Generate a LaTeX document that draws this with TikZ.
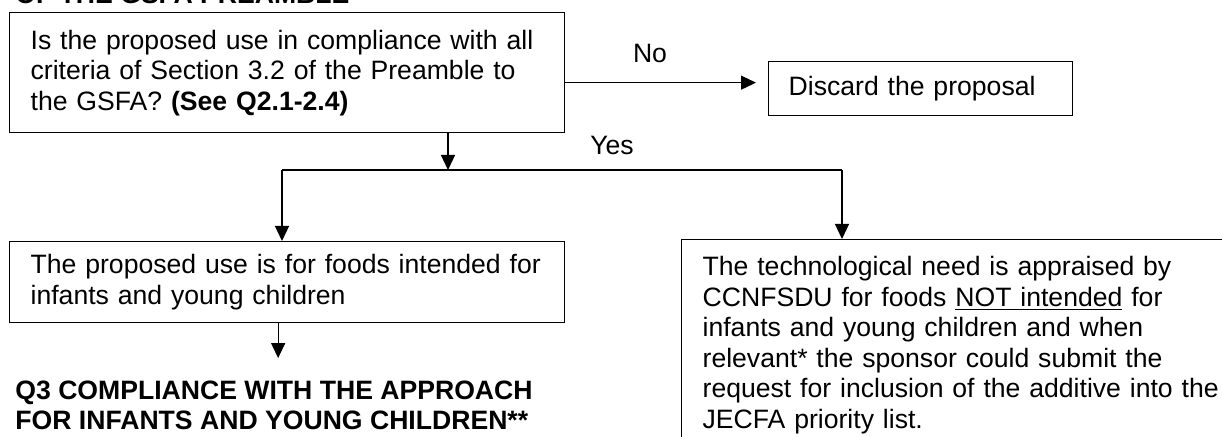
\documentclass[tikz,border=0pt]{standalone}
\usepackage{fontspec}
\setmainfont{Liberation Sans}
\usetikzlibrary{arrows.meta}
\newcommand{\boxfont}{\fontsize{13.3pt}{15.25pt}\selectfont}

\begin{document}
\begin{tikzpicture}[x=0.5pt,y=-0.5pt]
	\tikzstyle{every node}=[font=\boxfont]
	\tikzset{
		box/.style={draw, line width=0.65pt, anchor=north west, align=left, inner xsep=10.5pt},
		flow/.style={line width=0.65pt, -{Triangle[length=7.5pt,width=7pt]}},
	}
	\useasboundingbox (0,0) rectangle (1222,437);
	\fill [white] (0,0) rectangle (1222,437);
	\clip (0,0) rectangle (1222,437);
	\node [anchor=base west, inner sep=0, font=\boxfont\bfseries] (title) at (15,3.5) {OF THE GSFA PREAMBLE};
	\node [box, text width=256.5pt, minimum height=60pt] (q) at (9,12) {Is the proposed use in compliance with all\\criteria of Section 3.2 of the Preamble to\\the GSFA? \textbf{(See Q2.1-2.4)}};
	\node [box, inner xsep=10pt, text width=132pt, minimum height=27pt] (discard) at (768,61) {Discard the proposal};
	\node [box, text width=256.5pt, minimum height=40.5pt] (infant) at (9,241) {The proposed use is for foods intended for\\infants and young children};
	\node [box, inner ysep=8.4pt, text width=300pt] (ccn) at (681,239) {The technological need is appraised by\\CCNFSDU for foods \underline{NOT intended} for\\infants and young children and when\\relevant* the sponsor could submit the\\request for inclusion of the additive into the\\JECFA priority list.};
	\node [anchor=north west, align=left, inner sep=0, font=\boxfont\bfseries] (q3) at (15,380.5) {Q3 COMPLIANCE WITH THE APPROACH\\FOR INFANTS AND YOUNG CHILDREN**};
	\coordinate (fork) at (448,170);
	\coordinate (forkL) at (282,170);
	\coordinate (forkR) at (842,170);
	\draw [flow, shorten >=6pt] ([yshift=-5pt]q.east) -- ([yshift=-5pt]q.east -| discard.west);
	\node [anchor=base] (no) at (650,63) {No};
	\draw [flow] (q.south -| fork) -- (fork);
	\node [anchor=base] (yes) at (612,155) {Yes};
	\draw [line width=0.65pt] (forkL) -- (forkR);
	\draw [flow] (forkL) -- (forkL |- infant.north);
	\draw [flow] (forkR) -- (forkR |- ccn.north);
	\draw [flow, shorten >=11.2pt] ([xshift=-4.5pt]infant.south) -- ([xshift=-4.5pt]infant.south |- q3.north);
\end{tikzpicture}
\end{document}
